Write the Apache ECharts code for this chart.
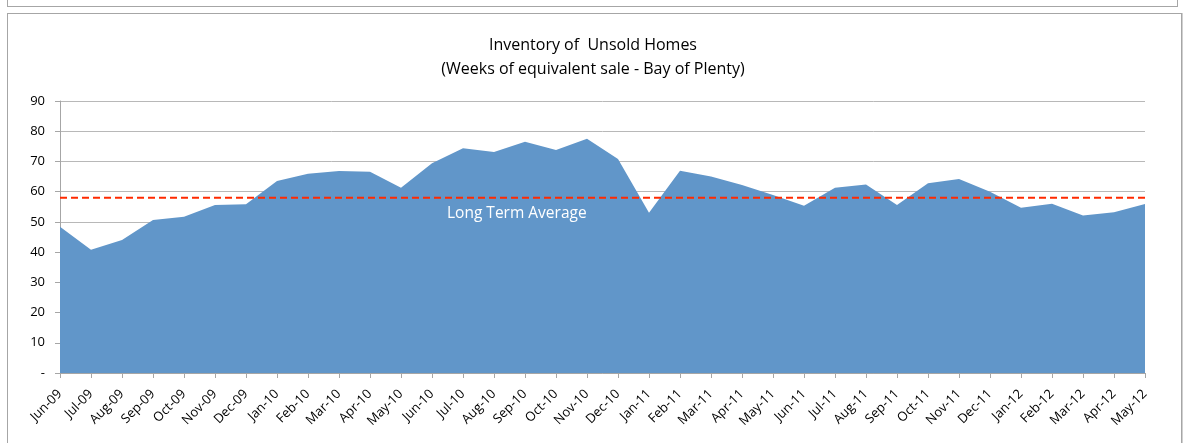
<!DOCTYPE html>
<html>
<head>
<meta charset="utf-8">
<script src="https://cdn.jsdelivr.net/npm/echarts@6/dist/echarts.min.js"></script>
<style>
	body { margin: 0; background: #fff; }
	#topBox { position: absolute; left: 7px; top: -2px; width: 1169px; height: 8px; border: 1px solid #a6a6a6; border-top: none; }
	#chartBox { position: absolute; left: 7px; top: 13px; width: 1173px; height: 440px; border: 1px solid #a6a6a6; border-bottom: none; box-shadow: 1px 0 0 #d0d0d0; }
	#inventoryChart { position: absolute; left: 0; top: 0; width: 1186px; height: 443px; }
</style>
</head>
<body>
<div id="topBox"></div>
<div id="chartBox"></div>
<div id="inventoryChart"></div>
<script>
// weeks of equivalent sale, Bay of Plenty
var months = ['Jun-09','Jul-09','Aug-09','Sep-09','Oct-09','Nov-09','Dec-09',
	'Jan-10','Feb-10','Mar-10','Apr-10','May-10','Jun-10','Jul-10','Aug-10','Sep-10','Oct-10','Nov-10','Dec-10',
	'Jan-11','Feb-11','Mar-11','Apr-11','May-11','Jun-11','Jul-11','Aug-11','Sep-11','Oct-11','Nov-11','Dec-11',
	'Jan-12','Feb-12','Mar-12','Apr-12','May-12'];
var weeks = [48.4, 40.8, 44.0, 50.6, 51.7, 55.6, 55.8,
	63.5, 65.9, 66.8, 66.6, 61.3, 69.4, 74.4, 73.1, 76.5, 73.8, 77.5, 70.8,
	53.0, 66.9, 65.0, 62.2, 58.9, 55.3, 61.3, 62.4, 55.6, 62.8, 64.2, 60.0,
	54.7, 56.0, 52.1, 53.2, 55.9];
var longTermAvg = 58;
var avgLine = months.map(function () { return longTermAvg; });
var yTicks = [0, 10, 20, 30, 40, 50, 60, 70, 80, 90];

var chart = echarts.init(document.getElementById('inventoryChart'));
var font = '"Open Sans", sans-serif';
var option = {
	animation: false,
	title: {
		text: 'Inventory of  Unsold Homes\n(Weeks of equivalent sale - Bay of Plenty)',
		left: 'center',
		top: 28,
		textStyle: { fontFamily: font, fontSize: 16, fontWeight: 'normal', color: '#000', lineHeight: 24 }
	},
	grid: { left: 60, right: 41, top: 101, bottom: 70 },
	xAxis: {
		type: 'category',
		data: months,
		boundaryGap: false,
		axisLine: { lineStyle: { color: '#a6a6a6' } },
		axisTick: { alignWithLabel: true, length: 5, lineStyle: { color: '#a6a6a6' } },
		axisLabel: { interval: 0, rotate: 45, margin: 19, fontFamily: font, fontSize: 13, color: '#000' }
	},
	yAxis: {
		type: 'value',
		min: yTicks[0],
		max: yTicks[yTicks.length - 1],
		interval: 10,
		axisLine: { show: true, lineStyle: { color: '#a6a6a6' } },
		axisTick: { show: true, length: 5, lineStyle: { color: '#a6a6a6' } },
		splitLine: { lineStyle: { color: '#b8b8b8' } },
		axisLabel: {
			fontFamily: font, fontSize: 13, color: '#000', margin: 15,
			formatter: function (v) { return v === 0 ? '-' : v; }
		}
	},
	series: [
		{
			name: 'Weeks',
			type: 'line',
			data: weeks,
			symbol: 'none',
			lineStyle: { width: 0 },
			areaStyle: { color: '#6196c9', opacity: 1 }
		},
		{
			name: 'Long Term Average',
			type: 'line',
			data: avgLine,
			symbol: 'none',
			z: 3,
			lineStyle: { color: '#ff2a00', width: 2, type: [7, 4] }
		}
	],
	graphic: [{
		type: 'text',
		left: 447,
		top: 206,
		z: 100,
		style: { text: 'Long Term Average', fill: '#fff', font: '15.5px ' + font }
	}]
};
chart.setOption(option);
</script>
</body>
</html>
